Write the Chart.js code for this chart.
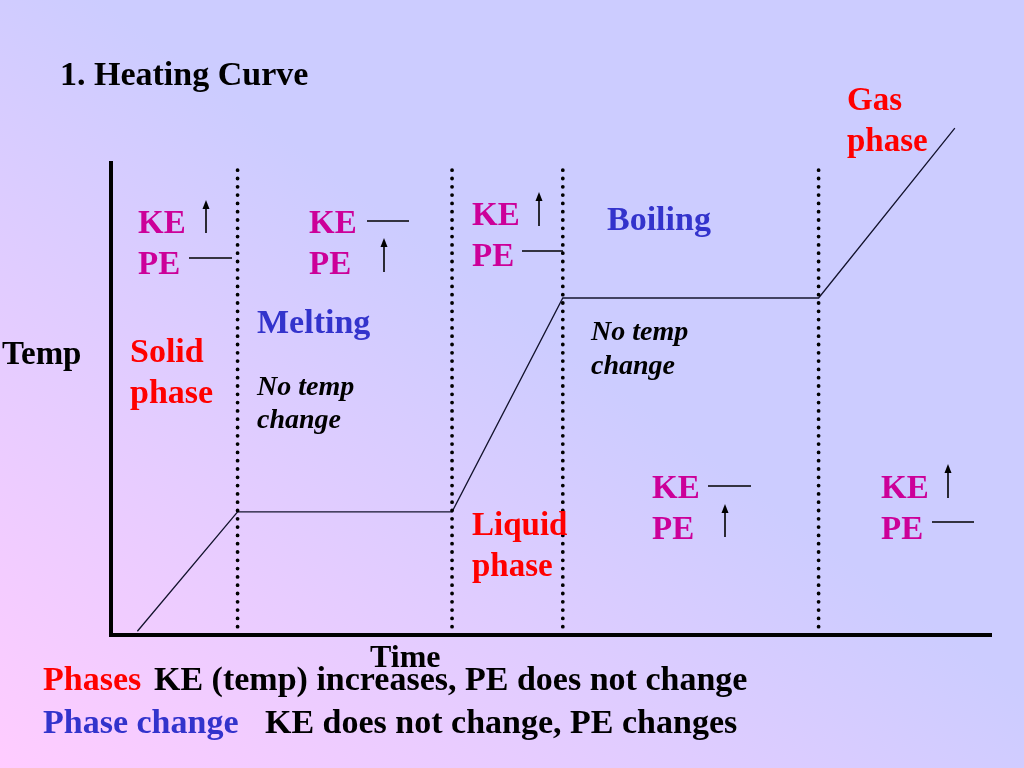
<!DOCTYPE html>
<html>
<head>
<meta charset="utf-8">
<script src="https://cdn.jsdelivr.net/npm/chart.js@4/dist/chart.umd.min.js"></script>
<style>
  html, body { margin: 0; padding: 0; }
  #slide {
    position: relative;
    width: 1024px;
    height: 768px;
    overflow: hidden;
    background: linear-gradient(to top right, #FFCCFF 0%, #CCCCFF 55%);
    font-family: "Liberation Serif", "Times New Roman", serif;
    font-weight: bold;
  }
  #chart { position: absolute; left: 0; top: 0; }
  .lbl { position: absolute; white-space: nowrap; line-height: 1; }
</style>
</head>
<body>
<div id="slide">
  <canvas id="chart" width="1024" height="768"></canvas>
</div>
<script>
// heating curve (time 0-100, temp 0-100 at the axis top)
const times = [3.0, 14.4, 38.8, 51.4, 80.5, 96.0];
const temps = [0.8, 26.1, 26.1, 71.4, 71.4, 107.4];

// dotted dividers between phases
const dividerTimes = [14.4, 38.8, 51.4, 80.5];
const dividerTop = 98.5;

const axisMax = { x: 100, y: 100 };

// text on the slide: [text, left, baseline, size, colour, italic]
const labels = [
  ['1. Heating Curve', 60, 85, 34, '#000000', false],
  ['Gas', 847, 111, 33, '#FF0000', false],
  ['phase', 847, 152, 33, '#FF0000', false],
  ['Temp', 2, 365, 33, '#000000', false],
  ['Solid', 130, 362, 34, '#FF0000', false],
  ['phase', 130, 403, 34, '#FF0000', false],
  ['Melting', 257, 333, 34, '#3333CC', false],
  ['No temp', 257, 395, 28, '#000000', true],
  ['change', 257, 428, 28, '#000000', true],
  ['Boiling', 607, 230, 34, '#3333CC', false],
  ['No temp', 591, 340, 28, '#000000', true],
  ['change', 591, 374, 28, '#000000', true],
  ['Liquid', 472, 536, 33, '#FF0000', false],
  ['phase', 472, 577, 33, '#FF0000', false],
  ['KE', 138, 234, 33, '#CC0099', false],
  ['PE', 138, 275, 33, '#CC0099', false],
  ['KE', 309, 234, 33, '#CC0099', false],
  ['PE', 309, 275, 33, '#CC0099', false],
  ['KE', 472, 226, 33, '#CC0099', false],
  ['PE', 472, 267, 33, '#CC0099', false],
  ['KE', 652, 499, 33, '#CC0099', false],
  ['PE', 652, 540, 33, '#CC0099', false],
  ['KE', 881, 499, 33, '#CC0099', false],
  ['PE', 881, 540, 33, '#CC0099', false],
  ['Time', 370, 667, 32, '#000000', false],
  ['Phases', 43, 690, 34, '#FF0000', false],
  ['KE (temp) increases, PE does not change', 154, 690, 34, '#000000', false],
  ['Phase change', 43, 733, 34, '#3333CC', false],
  ['KE does not change, PE changes', 265, 733, 34, '#000000', false],
];

// little up arrows and flat dashes next to KE / PE
const arrows = [[206, 200, 233], [384, 238, 272], [539, 192, 226], [725, 504, 537], [948, 464, 498]];
const dashes = [[189, 232, 258], [367, 409, 221], [522, 563, 251], [708, 751, 486], [932, 974, 522]];

const slide = document.getElementById('slide');
labels.forEach(([text, x, base, size, color, italic]) => {
  const d = document.createElement('div');
  d.className = 'lbl';
  d.textContent = text;
  d.style.left = x + 'px';
  d.style.top = (base - 0.8375 * size) + 'px';
  d.style.fontSize = size + 'px';
  d.style.color = color;
  if (italic) d.style.fontStyle = 'italic';
  slide.appendChild(d);
});

const axesAndMarks = {
  id: 'axesAndMarks',
  afterDatasetsDraw(chart) {
    const ctx = chart.ctx;
    const xs = chart.scales.x, ys = chart.scales.y;
    const x0 = xs.getPixelForValue(0), x1 = xs.getPixelForValue(axisMax.x);
    const y0 = ys.getPixelForValue(0), y1 = ys.getPixelForValue(axisMax.y);
    ctx.save();
    ctx.strokeStyle = '#000';
    ctx.lineWidth = 4;
    ctx.lineCap = 'square';
    ctx.beginPath();
    ctx.moveTo(x0, y1);
    ctx.lineTo(x0, y0);
    ctx.lineTo(x1, y0);
    ctx.stroke();

    ctx.lineWidth = 1.6;
    ctx.lineCap = 'butt';
    dashes.forEach(([a, b, y]) => {
      ctx.beginPath();
      ctx.moveTo(a, y);
      ctx.lineTo(b, y);
      ctx.stroke();
    });
    ctx.fillStyle = '#000';
    arrows.forEach(([x, top, bottom]) => {
      ctx.beginPath();
      ctx.moveTo(x, top + 6);
      ctx.lineTo(x, bottom);
      ctx.stroke();
      ctx.beginPath();
      ctx.moveTo(x, top);
      ctx.lineTo(x - 3.5, top + 9);
      ctx.lineTo(x + 3.5, top + 9);
      ctx.closePath();
      ctx.fill();
    });
    ctx.restore();
  }
};

const dividerSets = dividerTimes.map(t => ({
  data: [{ x: t, y: 0 }, { x: t, y: dividerTop }],
  borderColor: '#000000',
  borderWidth: 3.8,
  borderDash: [0, 8.3],
  borderCapStyle: 'round',
  pointRadius: 0,
  showLine: true,
}));

new Chart(document.getElementById('chart'), {
  type: 'scatter',
  data: {
    datasets: [
      ...dividerSets,
      {
        data: times.map((t, i) => ({ x: t, y: temps[i] })),
        borderColor: '#14142e',
        borderWidth: 1.3,
        pointRadius: 0,
        showLine: true,
        tension: 0,
      },
    ],
  },
  options: {
    responsive: false,
    animation: false,
    events: [],
    layout: { padding: { left: 111, right: 34, top: 115.8, bottom: 133 } },
    scales: {
      x: { type: 'linear', min: 0, max: 100, display: false },
      y: { type: 'linear', min: 0, max: 110, display: false },
    },
    plugins: {
      legend: { display: false },
      tooltip: { enabled: false },
    },
  },
  plugins: [axesAndMarks],
});
</script>
</body>
</html>
